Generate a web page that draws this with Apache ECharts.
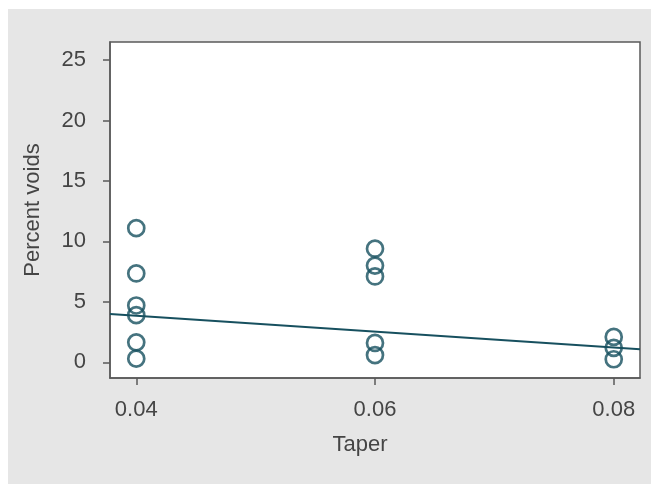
<!DOCTYPE html>
<html><head><meta charset="utf-8">
<script src="https://cdn.jsdelivr.net/npm/echarts@6/dist/echarts.min.js"></script>
<style>
html,body{margin:0;padding:0;background:#fff;}
#bg{position:absolute;left:8px;top:9px;width:643px;height:475px;background:#e6e6e6;}
#chart{position:absolute;left:0;top:0;width:651px;height:484px;}
</style></head>
<body><div id="bg"></div><div id="chart"></div>
<script>
const taper = [0.04,0.04,0.04,0.04,0.04,0.04, 0.06,0.06,0.06,0.06,0.06, 0.08,0.08,0.08];
const voids = [11.1,7.35,4.7,3.9,1.65,0.3, 9.4,8.0,7.1,1.6,0.6, 2.1,1.2,0.25];
const fitX = [0.0378, 0.0822];
const fitY = [4.0, 1.08];
const xTicks = [0.04, 0.06, 0.08];
const yTicks = [0, 5, 10, 15, 20, 25];

const teal = '#17505f';
const chart = echarts.init(document.getElementById('chart'));
chart.setOption({
  backgroundColor: 'transparent',
  animation: false,
  textStyle: {fontFamily: 'Liberation Sans, Arial, sans-serif'},
  grid: {left: 110, top: 42, right: 11, bottom: 106, show: true, backgroundColor: '#fff', borderColor: '#5a5a5a', borderWidth: 1.5},
  xAxis: {
    type: 'value', min: 0.0378, max: 0.0822,
    name: 'Taper', nameLocation: 'middle', nameGap: 56,
    nameTextStyle: {color: '#454545', fontSize: 22, padding: [0, 30, 0, 0]},
    axisLine: {show: true, onZero: false, lineStyle: {color: '#5a5a5a', width: 1.5}},
    axisTick: {show: true, length: 7, customValues: xTicks, lineStyle: {color: '#5a5a5a', width: 1.5}},
    axisLabel: {customValues: xTicks, color: '#454545', fontSize: 22, margin: 21, formatter: v => v.toFixed(2)},
    splitLine: {show: false}
  },
  yAxis: {
    type: 'value', min: -1.3, max: 26.5,
    name: 'Percent voids', nameLocation: 'middle', nameGap: 66,
    nameTextStyle: {color: '#454545', fontSize: 22},
    axisLine: {show: true, onZero: false, lineStyle: {color: '#5a5a5a', width: 1.5}},
    axisTick: {show: true, length: 7, customValues: yTicks, lineStyle: {color: '#5a5a5a', width: 1.5}},
    axisLabel: {customValues: yTicks, color: '#454545', fontSize: 22, margin: 24},
    splitLine: {show: false}
  },
  series: [
    {
      type: 'scatter',
      data: taper.map((x, i) => [x, voids[i]]),
      symbol: 'circle', symbolSize: 16,
      itemStyle: {color: 'rgba(0,0,0,0)', borderColor: teal, borderWidth: 2.7},
      z: 3
    },
    {
      type: 'line',
      data: fitX.map((x, i) => [x, fitY[i]]),
      showSymbol: false, symbol: 'none',
      lineStyle: {color: teal, width: 2},
      z: 4
    }
  ]
});
</script></body></html>
